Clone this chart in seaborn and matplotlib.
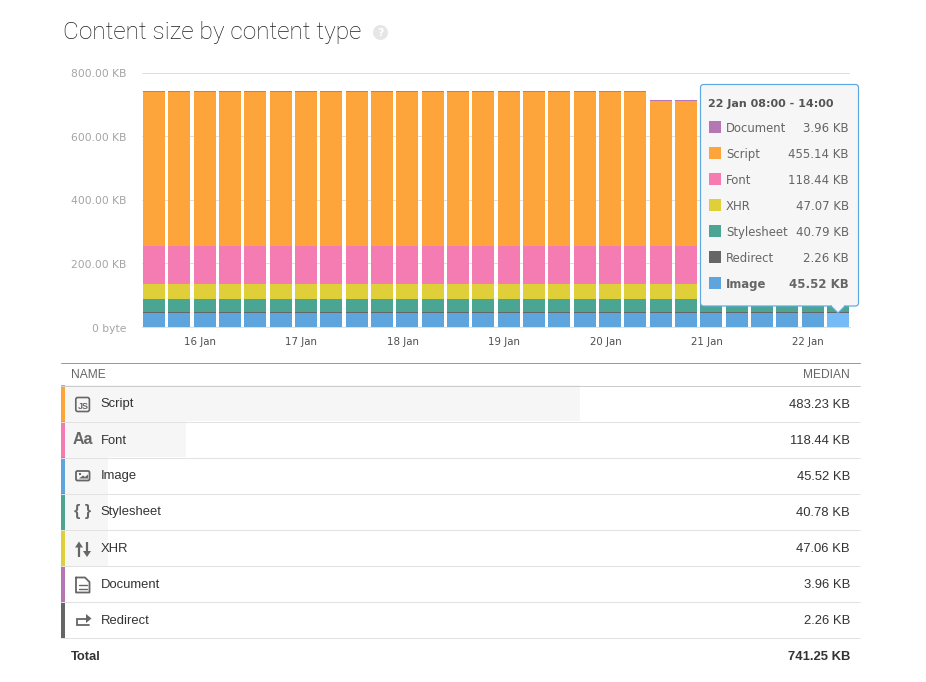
import numpy as np
import pandas as pd
import matplotlib
matplotlib.use('Agg')
import matplotlib.pyplot as plt
import seaborn as sns
from matplotlib.patches import FancyBboxPatch, Polygon, Rectangle, Circle
from matplotlib.transforms import ScaledTranslation

W, H = 926, 682

# bars, oldest first, one slot every 6 hours
slots = ['15 Jan 14', '15 Jan 20', '16 Jan 02', '16 Jan 08', '16 Jan 14', '16 Jan 20', '17 Jan 02',
         '17 Jan 08', '17 Jan 14', '17 Jan 20', '18 Jan 02', '18 Jan 08', '18 Jan 14', '18 Jan 20',
         '19 Jan 02', '19 Jan 08', '19 Jan 14', '19 Jan 20', '20 Jan 02', '20 Jan 08', '20 Jan 14',
         '20 Jan 20', '21 Jan 02', '21 Jan 08', '21 Jan 14', '21 Jan 20', '22 Jan 02', '22 Jan 08']
image = [45.52] * 28
redirect = [2.26] * 28
stylesheet = [40.78] * 27 + [40.79]
xhr = [47.06] * 27 + [47.07]
font = [118.44] * 28
script = [483.23, 483.23, 483.23, 483.23, 483.23, 483.23, 483.23, 483.23, 483.23, 483.23,
          483.23, 483.23, 483.23, 483.23, 483.23, 483.23, 483.23, 483.23, 483.23, 483.23,
          455.14, 455.14, 455.14, 455.14, 455.14, 455.14, 455.14, 455.14]
document = [3.96] * 28

y_ticks = [0, 200, 400, 600, 800]
y_tick_labels = ['0 byte', '200.00 KB', '400.00 KB', '600.00 KB', '800.00 KB']
day_labels = ['16 Jan', '17 Jan', '18 Jan', '19 Jan', '20 Jan', '21 Jan', '22 Jan']

tooltip_names = ['Document', 'Script', 'Font', 'XHR', 'Stylesheet', 'Redirect', 'Image']
tooltip_values = ['3.96 KB', '455.14 KB', '118.44 KB', '47.07 KB', '40.79 KB', '2.26 KB', '45.52 KB']

table_names = ['Script', 'Font', 'Image', 'Stylesheet', 'XHR', 'Document', 'Redirect']
table_medians = ['483.23 KB', '118.44 KB', '45.52 KB', '40.78 KB', '47.06 KB', '3.96 KB', '2.26 KB']
table_share = [64.9, 15.6, 5.9, 5.9, 5.9, 0, 0]

colors = {
    'Image': '#5EA5DD',
    'Redirect': '#666666',
    'Stylesheet': '#4AA593',
    'XHR': '#DFD03A',
    'Font': '#F47CB2',
    'Script': '#FDA43A',
    'Document': '#B576B5',
}

sns.set_theme(style='white')
plt.rcParams['font.family'] = ['DejaVu Sans']

ONE_PX = 0.72


def px(size):
    return size * 0.72


def axes_box(left, top, right, bottom):
    return [left / W, 1 - bottom / H, (right - left) / W, (bottom - top) / H]


fig = plt.figure(figsize=(W / 100, H / 100), dpi=100, facecolor='white')

# stacked chart
ax = fig.add_axes(axes_box(142, 72.5, 850, 327))
df = pd.DataFrame({'slot': slots, 'Image': image, 'Redirect': redirect, 'Stylesheet': stylesheet,
                   'XHR': xhr, 'Font': font, 'Script': script, 'Document': document})
stack_order = ['Image', 'Redirect', 'Stylesheet', 'XHR', 'Font', 'Script', 'Document']
totals = df[stack_order].cumsum(axis=1)
totals['slot'] = df['slot']
for name in reversed(stack_order):
    sns.barplot(data=totals, x='slot', y=name, color=colors[name], saturation=1, width=0.87,
                linewidth=0, errorbar=None, ax=ax, zorder=3)
ax.patches[-1].set_facecolor('#76BBF5')

ax.set_xlim(-0.474, 27.47)
ax.set_ylim(0, 800)
ax.set_xlabel('')
ax.set_ylabel('')
ax.set_yticks(y_ticks, y_tick_labels, fontsize=px(10.8), color='#a4a4a4', va='center')
ax.set_xticks(np.arange(len(day_labels)) * 4 + 1.82, day_labels, fontsize=px(10.3), color='#4f4f4f')
ax.tick_params(axis='y', length=0, pad=11.2)
ax.tick_params(axis='x', length=0, pad=7.2)
ax.grid(axis='y', color='#dedede', linewidth=ONE_PX)
ax.set_axisbelow(True)
sns.despine(ax=ax, left=True, top=True, right=True)
ax.spines['bottom'].set_color('#dedede')
ax.spines['bottom'].set_linewidth(ONE_PX)
nudge = ScaledTranslation(0, -1.5 / 100, fig.dpi_scale_trans)
for lab in ax.get_yticklabels():
    lab.set_transform(lab.get_transform() + nudge)

# table background, shaded by share
tbl = fig.add_axes(axes_box(61, 385.5, 860, 637.5))
tdf = pd.DataFrame({'name': table_names, 'share': table_share})
sns.barplot(data=tdf, y='name', x='share', color='#f6f6f6', saturation=1, width=1, linewidth=0,
            errorbar=None, ax=tbl)
tdf['strip'] = 0.5
sns.barplot(data=tdf, y='name', x='strip', hue='name', palette=colors, saturation=1, width=1,
            linewidth=0, errorbar=None, legend=False, ax=tbl)
tbl.set_xlim(0, 100)
tbl.set_ylim(6.5, -0.5)
tbl.axis('off')

# everything else sits in page pixels
page = fig.add_axes([0, 0, 1, 1], zorder=5)
page.set_xlim(0, W)
page.set_ylim(H, 0)
page.axis('off')
page.patch.set_alpha(0)

page.text(63, 32.5, 'Content size by content type', fontsize=px(24.4), color='#1f1f1f',
          family='Roboto', fontweight='light', va='center', ha='left')
page.add_patch(Circle((380.5, 32.5), 7.5, fc='#e6e6e6', ec='none'))
page.text(380.5, 33, '?', fontsize=px(11), color='white', fontweight='bold', ha='center', va='center')

# tooltip
tip = FancyBboxPatch((700.5, 84.5), 158, 221.5, boxstyle='round,pad=0,rounding_size=3',
                     fc='#f6f6f6', ec='#5FA9E2', lw=ONE_PX * 1.2)
page.add_patch(tip)
page.add_patch(Polygon([(831, 306), (845, 306), (838, 313)], closed=True, fc='#f6f6f6', ec='none'))
page.plot([831, 838, 845], [306, 313, 306], color='#5FA9E2', lw=ONE_PX * 1.2, solid_joinstyle='miter')
page.add_patch(Rectangle((832, 304.5), 12, 2, fc='#f6f6f6', ec='none'))
page.text(708, 104, '22 Jan 08:00 - 14:00', fontsize=px(11.1), fontweight='bold', color='#555555',
          ha='left', va='center')
for i, (name, val) in enumerate(zip(tooltip_names, tooltip_values)):
    yc = 127 + 26 * i
    page.add_patch(Rectangle((709, yc - 6), 12, 12, fc=colors[name], ec='none'))
    weight = 'bold' if name == 'Image' else 'normal'
    page.text(726, yc + 1.5, name, fontsize=px(11.6), color='#666666', fontweight=weight, ha='left', va='center')
    page.text(849, yc + 1.5, val, fontsize=px(11.7), color='#666666', fontweight=weight, ha='right', va='center')

# table lines and text
page.plot([61, 860], [362.5, 362.5], color='#999999', lw=ONE_PX)
page.plot([61, 860], [385.5, 385.5], color='#cccccc', lw=ONE_PX)
for i in range(1, 8):
    page.plot([61, 860], [385.5 + 36 * i] * 2, color='#e2e2e2', lw=ONE_PX)
page.text(71, 374.5, 'NAME', fontsize=px(12), color='#666666', family='Liberation Sans', ha='left', va='center')
page.text(850, 374.5, 'MEDIAN', fontsize=px(12), color='#666666', family='Liberation Sans', ha='right', va='center')
for i, (name, val) in enumerate(zip(table_names, table_medians)):
    yc = 404.5 + 36 * i
    page.text(100.5, yc, name, fontsize=px(13), color='#333333', family='Liberation Sans', ha='left', va='center')
    page.text(850, yc, val, fontsize=px(13), color='#333333', family='Liberation Sans', ha='right', va='center')
page.text(71, 657, 'Total', fontsize=px(13), color='#333333', fontweight='bold', family='Liberation Sans',
          ha='left', va='center')
page.text(850, 657, '741.25 KB', fontsize=px(13), color='#333333', fontweight='bold', family='Liberation Sans',
          ha='right', va='center')

# row icons
icon = '#666666'
page.add_patch(FancyBboxPatch((75.8, 397.5), 13.6, 14, boxstyle='round,pad=0,rounding_size=2', fc='none', ec=icon, lw=1.2))
page.text(83.5, 406.5, 'JS', fontsize=px(9), fontweight='bold', color=icon, ha='center', va='center', family='Liberation Sans')
page.text(83, 440, 'Aa', fontsize=px(16), fontweight='bold', color=icon, ha='center', va='center', family='Liberation Sans')
page.add_patch(FancyBboxPatch((76, 471), 13.5, 9.5, boxstyle='round,pad=0,rounding_size=1.5', fc='none', ec=icon, lw=1.3))
page.add_patch(Polygon([(79, 478.5), (83, 475.5), (85, 477), (88, 474.5), (88, 478.5)], closed=True, fc=icon, ec='none'))
page.add_patch(Rectangle((78.5, 473), 2, 2, fc=icon, ec='none'))
page.text(83, 511.5, '{ }', fontsize=px(16), fontweight='bold', color=icon, ha='center', va='center', family='Liberation Sans')
page.plot([79, 79], [556.5, 546], color=icon, lw=1.6, solid_capstyle='butt')
page.add_patch(Polygon([(75, 547.5), (83, 547.5), (79, 541.5)], closed=True, fc=icon, ec='none'))
page.plot([87, 87], [541.5, 552], color=icon, lw=1.6, solid_capstyle='butt')
page.add_patch(Polygon([(83, 551), (91, 551), (87, 557)], closed=True, fc=icon, ec='none'))
page.plot([76, 85, 89.5, 89.5, 76, 76], [577.5, 577.5, 582, 592.5, 592.5, 577.5], color=icon, lw=1.3, solid_joinstyle='round')
page.plot([79, 86.5], [585, 585], color=icon, lw=1)
page.plot([79, 86.5], [588.5, 588.5], color=icon, lw=1)
page.plot([89, 77, 77, 87], [625, 625, 618.5, 618.5], color=icon, lw=1.3, solid_joinstyle='miter')
page.add_patch(Polygon([(86, 614), (91.5, 618.5), (86, 623)], closed=True, fc=icon, ec='none'))

fig.savefig('out.png', dpi=100)
